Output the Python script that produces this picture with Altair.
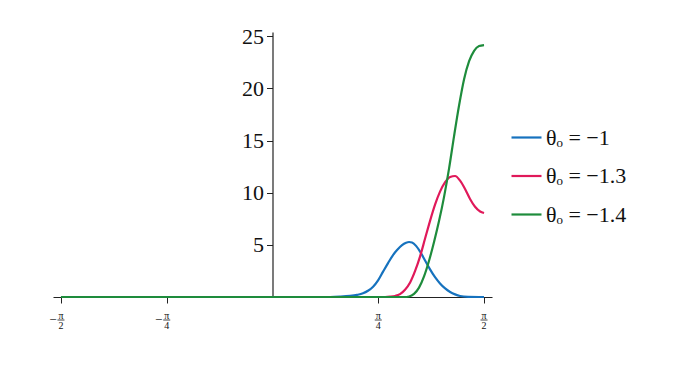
import math
import altair as alt
import pandas as pd

# ---- data ----
blue_x = [-1.5708, 0.0, 0.427, 0.501, 0.576, 0.628, 0.672, 0.709, 0.747, 0.784, 0.821, 0.858, 0.895, 0.925,
          0.962, 0.992, 1.014, 1.036, 1.066, 1.096, 1.133, 1.170, 1.207, 1.244, 1.282, 1.319, 1.356, 1.393,
          1.452, 1.5708]
blue_y = [0, 0, 0, 0.03, 0.1, 0.2, 0.35, 0.6, 0.99, 1.6, 2.43, 3.25, 4.02, 4.5,
          4.98, 5.2, 5.27, 5.22, 4.9, 4.35, 3.5, 2.65, 1.9, 1.3, 0.82, 0.48, 0.25, 0.1,
          0.02, 0]

red_x = [-1.5708, 0.0, 0.75, 0.836, 0.873, 0.910, 0.947, 0.984, 1.022, 1.059, 1.096, 1.133, 1.170, 1.207,
         1.244, 1.282, 1.319, 1.356, 1.393, 1.430, 1.467, 1.504, 1.542, 1.5708]
red_y = [0, 0, 0, 0.0, 0.03, 0.1, 0.28, 0.7, 1.4, 2.5, 3.9, 5.6, 7.3, 8.85,
         10.1, 11.0, 11.5, 11.6, 11.15, 10.35, 9.4, 8.65, 8.2, 8.05]

green_x = [-1.5708, 0.0, 0.85, 0.977, 1.014, 1.051, 1.088, 1.126, 1.163, 1.200, 1.237, 1.274, 1.311, 1.348,
           1.386, 1.423, 1.460, 1.497, 1.534, 1.5708]
green_y = [0, 0, 0, 0.0, 0.05, 0.3, 0.9, 2.0, 3.5, 5.3, 7.3, 9.6, 12.3, 15.4,
           18.4, 20.9, 22.6, 23.6, 24.05, 24.15]

series_labels = ["θₒ = −1", "θₒ = −1.3", "θₒ = −1.4"]
series_colors = ["#1672be", "#e0195a", "#1e8c3c"]

tick_vals = [-math.pi / 2, -math.pi / 4, math.pi / 4, math.pi / 2]
tick_sign = ["−", "−", "", ""]
tick_num = ["π", "π", "π", "π"]
tick_den = ["2", "4", "4", "2"]

y_ticks = [5, 10, 15, 20, 25]

# ---- build tables ----
rows = []
for lab, xs, ys in zip(series_labels, [blue_x, red_x, green_x], [blue_y, red_y, green_y]):
    for xv, yv in zip(xs, ys):
        rows.append({"x": xv, "y": yv, "series": lab})
df = pd.DataFrame(rows)
ticks_df = pd.DataFrame({"v": tick_vals, "sign": tick_sign, "num": tick_num, "den": tick_den})

W, H = 439, 265
serif = "Liberation Serif"
xscale = alt.Scale(domain=[-1.63, 1.63], nice=False, zero=False)
yscale = alt.Scale(domain=[0, 25.4], nice=False)

lines = alt.Chart(df).mark_line(strokeWidth=2.2, interpolate="monotone").encode(
    x=alt.X("x:Q", scale=xscale,
            axis=alt.Axis(values=tick_vals, labels=False, title=None, grid=False,
                          tickSize=6, tickColor="#222", domainColor="#222", domainWidth=1.2)),
    y=alt.Y("y:Q", scale=yscale,
            axis=alt.Axis(values=y_ticks, offset=-W / 2, title=None, grid=False,
                          tickSize=6, tickColor="#222", domainColor="#222", domainWidth=1.2,
                          labelFont=serif, labelFontSize=22, labelColor="#111", labelPadding=3)),
    color=alt.Color("series:N",
                    scale=alt.Scale(domain=series_labels, range=series_colors),
                    legend=alt.Legend(title=None, orient="none", legendX=457, legendY=89,
                                      symbolType="stroke", symbolSize=900, symbolStrokeWidth=2.2,
                                      labelFont=serif, labelFontSize=22, labelColor="#111",
                                      labelOffset=3, rowPadding=10.5, padding=0)),
    order=alt.Order("x:Q"),
)

num = alt.Chart(ticks_df).mark_text(font=serif, fontSize=10, dy=19, baseline="middle", color="#111").encode(
    x=alt.X("v:Q", scale=xscale), y=alt.value(H), text="num:N")
den = alt.Chart(ticks_df).mark_text(font=serif, fontSize=10, dy=29, baseline="middle", color="#111").encode(
    x=alt.X("v:Q", scale=xscale), y=alt.value(H), text="den:N")
bar = alt.Chart(ticks_df).mark_rule(xOffset=-3.5, x2Offset=3.5, strokeWidth=0.8, color="#111").encode(
    x=alt.X("v:Q", scale=xscale), x2="v:Q", y=alt.value(H + 23))
sign = alt.Chart(ticks_df).mark_text(font=serif, fontSize=13, dx=-8, dy=23, baseline="middle", color="#111").encode(
    x=alt.X("v:Q", scale=xscale), y=alt.value(H), text="sign:N")

chart = alt.layer(lines, num, den, bar, sign).properties(
    width=W, height=H,
    autosize=alt.AutoSizeParams(type="none"),
    padding={"left": 45, "top": 24, "right": 180, "bottom": 61},
).configure_view(stroke=None)

chart.save("out.html", embed_options={"renderer": "svg", "actions": False})
